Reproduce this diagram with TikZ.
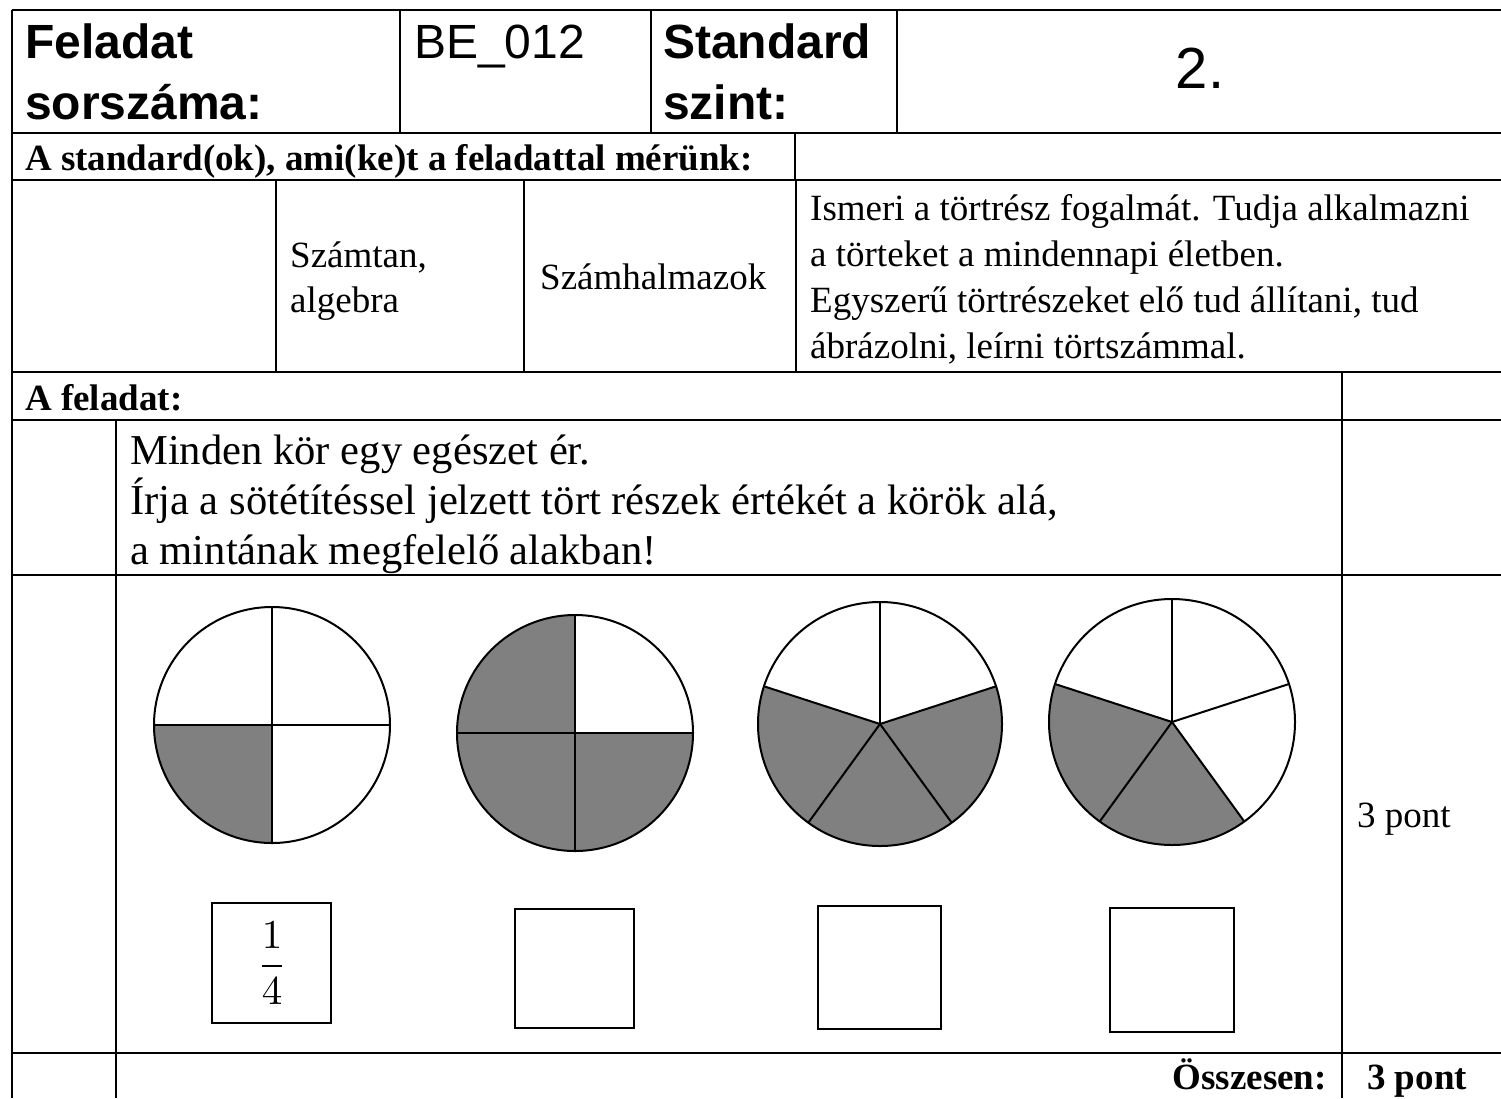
\documentclass[tikz,border=0pt]{standalone}
\usepackage[no-math]{fontspec}
\setmainfont{Liberation Serif}
\newfontfamily\arialf{Liberation Sans}
\begin{document}
\begin{tikzpicture}[x=1pt,y=-1pt,
  tline/.style={line width=2.6pt},
  sline/.style={line width=2pt},
  shadefill/.style={fill=gray},
  arialb/.style={font=\fontsize{48}{56}\selectfont\arialf\bfseries, anchor=base west, inner sep=0pt},
  ariall/.style={font=\fontsize{48}{56}\selectfont\arialf, anchor=base west, inner sep=0pt},
  tb/.style={font=\fontsize{37}{44}\selectfont\bfseries, anchor=base west, inner sep=0pt},
  tr/.style={font=\fontsize{37}{44}\selectfont, anchor=base west, inner sep=0pt},
  ti/.style={font=\fontsize{42.6}{50}\selectfont, anchor=base west, inner sep=0pt},
]
\useasboundingbox (0,0) rectangle (1501,1098);
\fill[white] (0,0) rectangle (1501,1098);

% table grid
\foreach \yy in {10,133,180,372,420,575,1053} \draw[tline] (12,\yy) -- (1501,\yy);
\draw[tline] (12,10) -- (12,1098);
\foreach \xx in {400,651,897} \draw[tline] (\xx,10) -- (\xx,133);
\draw[tline] (795,133) -- (795,180);
\foreach \xx in {276,524,796} \draw[tline] (\xx,180) -- (\xx,372);
\draw[tline] (1342,372) -- (1342,1098);
\draw[tline] (116,420) -- (116,1098);

% header texts
\node[arialb] (t1) at (25,58) {Feladat};
\node[arialb] (t2) at (25,119) {sorszáma:};
\node[ariall] (t3) at (414,58) {BE\_012};
\node[arialb] (t4) at (663,58) {Standard};
\node[arialb] (t5) at (663,119) {szint:};
\node[font=\fontsize{58}{64}\selectfont\arialf, anchor=base, inner sep=0pt] (t6) at (1200,88) {2.};
\node[tb] (t7) at (25,170) {A standard(ok), ami(ke)t a feladattal mérünk:};
\node[tr] (t8) at (290,267) {Számtan,};
\node[tr] (t9) at (290,312) {algebra};
\node[tr] (t10) at (540,289) {Számhalmazok};
\node[tr] (d1) at (810,220) {Ismeri a törtrész fogalmát. Tudja alkalmazni};
\node[tr] (d2) at (810,266) {a törteket a mindennapi életben.};
\node[tr] (d3) at (810,312) {Egyszerű törtrészeket elő tud állítani, tud};
\node[tr] (d4) at (810,358) {ábrázolni, leírni törtszámmal.};
\node[tb] (fa) at (25,410) {A feladat:};
\node[ti] (i1) at (130,464) {Minden kör egy egészet ér.};
\node[ti] (i2) at (130,514) {Írja a sötétítéssel jelzett tört részek értékét a körök alá,};
\node[ti] (i3) at (130,564) {a mintának megfelelő alakban!};
\node[tr] (p1) at (1357,827) {3 pont};
\node[tb, anchor=base east] (os) at (1327,1089) {Összesen:};
\node[tb] (p2) at (1367,1089) {3 pont};

% circle 1
\begin{scope}[shift={(272,725)}, yscale=-1]
 \fill[shadefill] (0,0) -- (180:118) arc[start angle=180,end angle=270,radius=118] -- cycle;
 \draw[sline] (0,0) circle[radius=118];
 \draw[sline] (-118,0) -- (118,0) (0,118) -- (0,-118);
\end{scope}
% circle 2
\begin{scope}[shift={(575,733)}, yscale=-1]
 \fill[shadefill] (0,0) -- (90:118) arc[start angle=90,end angle=360,radius=118] -- cycle;
 \draw[sline] (0,0) circle[radius=118];
 \draw[sline] (-118,0) -- (118,0) (0,118) -- (0,-118);
\end{scope}
% circle 3
\begin{scope}[shift={(880,724)}, yscale=-1]
 \fill[shadefill] (0,0) -- (162:122) arc[start angle=162,end angle=378,radius=122] -- cycle;
 \draw[sline] (0,0) circle[radius=122];
 \foreach \a in {90,18,-54,-126,162} \draw[sline] (0,0) -- (\a:122);
\end{scope}
% circle 4
\begin{scope}[shift={(1172,722)}, yscale=-1]
 \fill[shadefill] (0,0) -- (162:123) arc[start angle=162,end angle=306,radius=123] -- cycle;
 \draw[sline] (0,0) circle[radius=123];
 \foreach \a in {90,18,-54,-126,162} \draw[sline] (0,0) -- (\a:123);
\end{scope}

% answer boxes
\draw[sline] (212,903) rectangle (331,1023);
\draw[sline] (515,909) rectangle (634,1028);
\draw[sline] (818,906) rectangle (941,1029);
\draw[sline] (1110,908) rectangle (1234,1032);
\node[scale=4.1, inner sep=0pt] (fr) at (272,963) {$\displaystyle\frac{1}{4}$};
\end{tikzpicture}
\end{document}
